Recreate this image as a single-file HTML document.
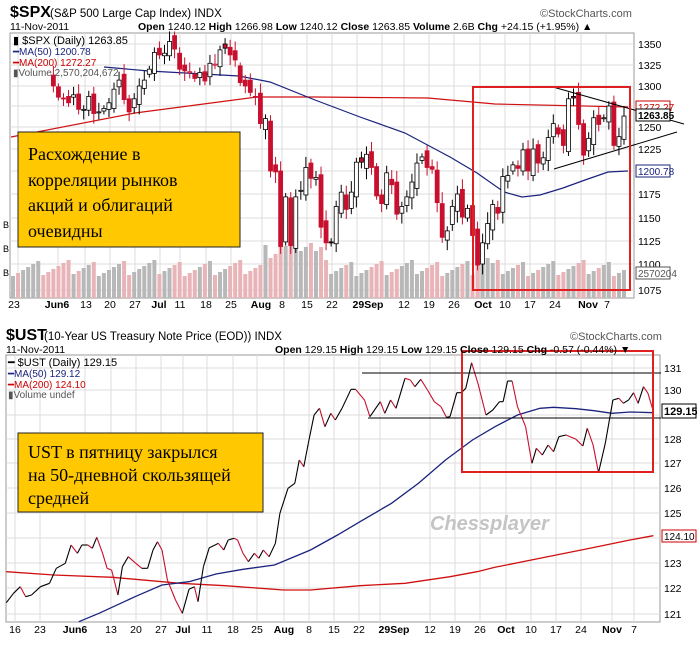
<!DOCTYPE html>
<html><head><meta charset="utf-8"><style>
body{margin:0;background:#fff;}
svg{display:block;font-family:"Liberation Sans",sans-serif;}
.ru{font-family:"Liberation Serif","DejaVu Serif",serif;}
</style></head><body>
<svg id="s" width="697" height="655" viewBox="0 0 697 655" xmlns="http://www.w3.org/2000/svg">
<rect width="697" height="655" fill="#fff"/>
<g id="g"></g>
<!-- top header -->
<text x="10" y="17" font-size="16" font-weight="bold">$SPX</text>
<text x="50" y="17" font-size="11.5">(S&amp;P 500 Large Cap Index) INDX</text>
<text x="540" y="17" font-size="11" fill="#555">©StockCharts.com</text>
<text x="10" y="30" font-size="10.5">11-Nov-2011</text>
<text x="138" y="30" font-size="10.5"><tspan font-weight="bold">Open</tspan> 1240.12 <tspan font-weight="bold">High</tspan> 1266.98 <tspan font-weight="bold">Low</tspan> 1240.12 <tspan font-weight="bold">Close</tspan> 1263.85 <tspan font-weight="bold">Volume</tspan> 2.6B <tspan font-weight="bold">Chg</tspan> +24.15 (+1.95%) ▲</text>
<text x="13" y="44" font-size="11">▮ $SPX (Daily) 1263.85</text>
<text x="13" y="55" font-size="10" fill="#1a237e">━MA(50) 1200.78</text>
<text x="13" y="66" font-size="10" fill="#c00">━MA(200) 1272.27</text>
<text x="13" y="76" font-size="10" fill="#555">▮Volume 2,570,204,672</text>
<!-- bottom header -->
<text x="6" y="340" font-size="16" font-weight="bold">$UST</text>
<text x="44" y="340" font-size="11.5">(10-Year US Treasury Note Price (EOD)) INDX</text>
<text x="570" y="340" font-size="11" fill="#555">©StockCharts.com</text>
<text x="6" y="353" font-size="10.5">11-Nov-2011</text>
<text x="275" y="353" font-size="10.5"><tspan font-weight="bold">Open</tspan> 129.15 <tspan font-weight="bold">High</tspan> 129.15 <tspan font-weight="bold">Low</tspan> 129.15 <tspan font-weight="bold">Close</tspan> 129.15 <tspan font-weight="bold">Chg</tspan> -0.57 (-0.44%) ▼</text>
<text x="8" y="366" font-size="11">━ $UST (Daily) 129.15</text>
<text x="8" y="377" font-size="10" fill="#1a237e">━MA(50) 129.12</text>
<text x="8" y="388" font-size="10" fill="#c00">━MA(200) 124.10</text>
<text x="8" y="398" font-size="10" fill="#555">▮Volume undef</text>
<text x="430" y="530" font-size="20" font-weight="bold" font-style="italic" fill="#c4c4c4">Chessplayer</text>
<!-- yellow boxes -->
<rect x="18" y="132" width="222" height="115" fill="#ffc800" stroke="#222" stroke-width="1"/>
<text class="ru" x="28" y="160" font-size="18">Расхождение в</text>
<text class="ru" x="28" y="186" font-size="18">корреляции рынков</text>
<text class="ru" x="28" y="211" font-size="18">акций и облигаций</text>
<text class="ru" x="28" y="237" font-size="18">очевидны</text>
<rect x="18" y="433" width="245" height="79" fill="#ffc800" stroke="#222" stroke-width="1"/>
<text class="ru" x="28" y="458" font-size="18">UST в пятницу закрылся</text>
<text class="ru" x="28" y="481" font-size="18">на 50-дневной скользящей</text>
<text class="ru" x="28" y="504" font-size="18">средней</text>
</svg>
<script>
var NS="http://www.w3.org/2000/svg",g=document.getElementById('g');
function el(t,a,p){var e=document.createElementNS(NS,t);for(var k in a)e.setAttribute(k,a[k]);(p||g).appendChild(e);return e;}
function txt(x,y,s,a){var e=el('text',Object.assign({x:x,y:y,'font-size':10.5},a||{}));e.textContent=s;return e;}
// ---------- TOP ----------
var L=10,R=634,T=33,B=298;
el('rect',{x:L,y:T,width:R-L,height:B-T,fill:'#fff',stroke:'#999'});
var pts=[[1350,44],[1325,65],[1300,86],[1275,106],[1250,127],[1225,149],[1200,171],[1175,194],[1150,218],[1125,241],[1100,264],[1075,290]];
function py(p){for(var i=0;i<pts.length-1;i++){var a=pts[i],b=pts[i+1];if(p>=b[0]||i==pts.length-2){return a[1]+(a[0]-p)*(b[1]-a[1])/(a[0]-b[0]);}}}
pts.forEach(function(q){el('line',{x1:L,x2:R,y1:q[1],y2:q[1],stroke:'#ddd'});if(q[0]!=1275&&q[0]!=1200)txt(638,q[1]+4,q[0]);});
var xl=[["23",14],["Jun6",57],["13",86],["20",110],["27",135],["Jul",159],["11",180],["18",206],["25",231],["Aug",261],["8",282],["15",307],["22",332],["29Sep",368],["12",404],["19",429],["26",454],["Oct",483],["10",505],["17",530],["24",555],["Nov",588],["7",607]];
[18,58,85,110,135,160,180,206,231,262,282,307,332,357,382,404,429,454,480,505,530,555,581,606].forEach(function(x){el('line',{x1:x,x2:x,y1:T,y2:B,stroke:'#ddd'});});
xl.forEach(function(l){var b=/[A-Za-z]/.test(l[0]);txt(l[1],308,l[0],{'font-weight':b?'bold':'normal','text-anchor':'middle'});});
var c=[1317,1316,1320,1325,1331,1345,1314,1312,1300,1286,1284,1279,1289,1271,1271,1287,1266,1268,1272,1279,1296,1307,1283,1268,1284,1300,1307,1320,1340,1337,1339,1353,1344,1320,1318,1317,1309,1316,1306,1327,1326,1343,1345,1337,1331,1304,1300,1292,1286,1254,1260,1200,1199,1119,1172,1120,1172,1179,1204,1192,1193,1140,1123,1123,1162,1177,1159,1177,1210,1210,1219,1204,1173,1165,1198,1185,1154,1162,1172,1188,1209,1216,1204,1202,1166,1129,1136,1162,1175,1151,1160,1131,1099,1123,1144,1164,1155,1194,1195,1207,1203,1224,1200,1225,1209,1215,1238,1254,1242,1229,1284,1285,1253,1218,1237,1261,1253,1261,1275,1229,1239,1263];
var n=c.length,dx=(624-13)/(n-1);
for(var i=0;i<n;i++){var x=13+i*dx;var h=22+((i*37)%17);if(i>=50&&i<62)h+=15+((i*13)%12);if(i==53||i==55)h=55;if(i>=92&&i<95)h=40;
 var dn=i>0&&c[i]<c[i-1];el('rect',{x:x-2,y:B-h,width:4,height:h,fill:dn?'#e8b4b8':'#b8b8b8'});}
function pl(a,col,w,f){el('polyline',{points:a.map(function(p){return f?f(p):p;}).join(' '),fill:'none',stroke:col,'stroke-width':w||1.2});}
pl([[11,137],[135,113],[257,97],[315,97],[428,98],[495,104],[628,107]],'#d01010',1.2);
pl([[104,67],[149,71],[239,76],[270,82],[315,100],[360,117],[405,133],[450,157],[477,173],[504,192],[522,197],[540,195],[563,188],[585,180],[608,172],[628,171]],'#1a237e',1.2);
for(var i=8;i<n;i++){var x=13+i*dx,cl=c[i],pr=c[i-1];var o=pr+((i*7)%5-2)*2+(cl<pr?3:-3)*((i%3)?1:-1);
 var hi=Math.max(o,cl)+4+(i*11)%9,lo=Math.min(o,cl)-4-(i*5)%9;var red=cl<pr;
 el('line',{x1:x,x2:x,y1:py(hi),y2:py(lo),stroke:red?'#c8102e':'#000'});
 var y1=py(Math.max(o,cl)),y2=py(Math.min(o,cl));el('rect',{x:x-2,y:y1,width:4,height:Math.max(1,y2-y1),fill:(cl<o)?'#c8102e':'#fff',stroke:red?'#c8102e':'#000','stroke-width':0.8});}
el('line',{x1:553,y1:87,x2:684,y2:124,stroke:'#000'});el('line',{x1:554,y1:169,x2:677,y2:132,stroke:'#000'});
el('rect',{x:473,y:87,width:157,height:203,fill:'none',stroke:'#e02020','stroke-width':2});
function tag(y,s,col,b){el('rect',{x:636,y:y-6,width:34,height:12,fill:'#fff',stroke:col});txt(638,y+4,s,{'font-size':10,fill:col=='#000'?'#000':col,'font-weight':b?'bold':'normal'});}
tag(107,'1272.27','#c00');tag(115,'1263.85','#000',1);tag(171,'1200.78','#1a237e');tag(273,'2570204','#555');
txt(3,228,'B',{'font-size':9});txt(3,252,'B',{'font-size':9});txt(3,276,'B',{'font-size':9});
// ---------- BOTTOM ----------
var L2=6,R2=660,T2=355,B2=622;
el('rect',{x:L2,y:T2,width:R2-L2,height:B2-T2,fill:'none',stroke:'#999'});
function cv(p){return [(p[0]*0.45).toFixed(1),(320+p[1]/3).toFixed(1)];}
[[131,368],[130,390],[129,415],[128,439],[127,463],[126,488],[125,513],[124,538],[123,563],[122,588],[121,614]].forEach(function(q){el('line',{x1:L2,x2:R2,y1:q[1],y2:q[1],stroke:'#ddd'});if(q[0]!=129&&q[0]!=124)txt(664,q[1]+4,q[0]);});
var xb=[["16",15],["23",40],["Jun6",75],["13",111],["20",136],["27",161],["Jul",183],["11",207],["18",233],["25",257],["Aug",284],["8",309],["15",334],["22",359],["29Sep",394],["12",430],["19",455],["26",480],["Oct",506],["10",531],["17",556],["24",581],["Nov",612],["7",634]];
xb.forEach(function(l){var x=l[0]=="29Sep"?380:(l[0]=="Jun6"?85:l[1]);el('line',{x1:x,x2:x,y1:T2,y2:B2,stroke:'#ddd'});var b=/[A-Za-z]/.test(l[0]);txt(l[1],633,l[0],{'font-weight':b?'bold':'normal','text-anchor':'middle'});});
var ma2=[[14,755],[120,765],[250,772],[400,790],[500,797],[630,810],[690,810],[800,797],[900,790],[1000,770],[1060,755],[1100,742],[1200,715],[1300,688],[1400,660],[1452,647]];
pl(ma2,'#d01010',1.3,cv);
var ma1=[[175,905],[220,880],[300,830],[360,795],[420,785],[480,762],[540,748],[610,735],[690,690],[750,645],[800,605],[870,550],[930,490],[990,420],[1050,360],[1100,320],[1150,285],[1200,265],[1230,262],[1280,266],[1320,272],[1360,280],[1400,276],[1452,278]];
pl(ma1,'#1a237e',1.3,cv);
var u=[[14,848],[30,820],[45,800],[57,830],[70,825],[90,800],[110,790],[125,745],[145,730],[158,675],[172,700],[182,675],[195,675],[205,685],[215,652],[228,700],[238,745],[248,750],[262,825],[272,740],[285,710],[300,728],[315,745],[328,745],[340,690],[350,665],[360,690],[372,780],[390,840],[405,880],[420,808],[432,800],[440,845],[452,740],[465,683],[478,675],[485,670],[497,690],[507,660],[520,655],[528,660],[540,700],[552,725],[565,700],[575,715],[585,690],[598,710],[612,670],[622,580],[640,505],[655,490],[665,420],[675,440],[685,370],[698,285],[710,265],[722,320],[735,280],[745,300],[760,265],[780,208],[790,208],[810,240],[822,290],[845,245],[855,280],[868,240],[880,265],[900,175],[912,180],[922,200],[935,178],[950,210],[965,245],[980,260],[992,292],[1000,290],[1015,218],[1025,218],[1035,205],[1048,128],[1062,190],[1080,285],[1095,270],[1110,245],[1118,245],[1128,183],[1138,183],[1150,260],[1168,320],[1182,430],[1192,385],[1205,405],[1218,375],[1230,395],[1242,350],[1258,345],[1280,358],[1295,378],[1305,325],[1318,375],[1330,458],[1345,370],[1362,240],[1375,235],[1385,250],[1397,240],[1408,218],[1418,250],[1430,200],[1440,220],[1452,275]];
for(var i=1;i<u.length;i++){var a=cv(u[i-1]),b=cv(u[i]);el('line',{x1:a[0],y1:a[1],x2:b[0],y2:b[1],stroke:u[i][1]>u[i-1][1]?'#c8102e':'#000','stroke-width':1.1});}
el('line',{x1:362,x2:661,y1:373,y2:373,stroke:'#000'});el('line',{x1:368,x2:661,y1:418,y2:418,stroke:'#000'});
el('rect',{x:462,y:351,width:191,height:121,fill:'none',stroke:'#e02020','stroke-width':2});
el('rect',{x:662,y:404,width:34,height:14,fill:'#fff',stroke:'#000'});txt(664,415,'129.15',{'font-weight':'bold','font-size':11});
el('rect',{x:662,y:530,width:34,height:12,fill:'#fff',stroke:'#c00'});txt(664,540,'124.10',{'font-size':10});
</script>
</body></html>
